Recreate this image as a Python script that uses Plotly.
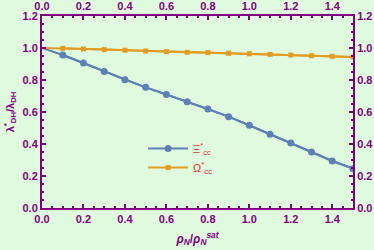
import plotly.graph_objects as go

x_vals = [0.0, 0.1, 0.2, 0.3, 0.4, 0.5, 0.6, 0.7, 0.8, 0.9, 1.0, 1.1, 1.2, 1.3, 1.4, 1.5]
xi_vals = [1.0, 0.956, 0.906, 0.853, 0.802, 0.754, 0.710, 0.664, 0.619, 0.571, 0.517, 0.461, 0.406, 0.350, 0.294, 0.246]
omega_vals = [1.0, 0.998, 0.994, 0.990, 0.986, 0.981, 0.977, 0.973, 0.971, 0.967, 0.964, 0.960, 0.956, 0.952, 0.948, 0.944]
marker_x = x_vals[1:]
xi_markers = xi_vals[1:]
omega_markers = omega_vals[1:]

xi_name = "Ξ<sup>*</sup><sub>cc</sub>"
omega_name = "Ω<sup>*</sup><sub>cc</sub>"

purple = "#800080"
blue = "#5E81B5"
orange = "#E19C24"
bg = "#E0FAE0"

fig = go.Figure()
fig.add_trace(go.Scatter(x=x_vals, y=xi_vals, mode="lines", line=dict(color=blue, width=2),
                         showlegend=False, hoverinfo="skip"))
fig.add_trace(go.Scatter(x=marker_x, y=xi_markers, mode="lines+markers", name=xi_name,
                         line=dict(color=blue, width=2), marker=dict(color=blue, size=7, symbol="circle")))
fig.add_trace(go.Scatter(x=x_vals, y=omega_vals, mode="lines", line=dict(color=orange, width=2),
                         showlegend=False, hoverinfo="skip"))
fig.add_trace(go.Scatter(x=marker_x, y=omega_markers, mode="lines+markers", name=omega_name,
                         line=dict(color=orange, width=2), marker=dict(color=orange, size=5, symbol="square")))
# dummy trace for top/right axes
fig.add_trace(go.Scatter(x=[0, 1.5], y=[0, 1.2], xaxis="x2", yaxis="y2", mode="markers",
                         marker=dict(opacity=0), showlegend=False, hoverinfo="skip"))

tickfont = dict(family="Liberation Sans", size=11, color=purple, weight="bold")
minor = dict(dtick=0.05, ticks="inside", ticklen=2, tickwidth=1.5, tickcolor=purple)
common = dict(showgrid=False, zeroline=False, showline=True, linecolor=purple, linewidth=2,
              ticks="inside", ticklen=4, tickwidth=2, tickcolor=purple, tickfont=tickfont,
              tickformat=".1f", minor=minor, automargin=False)

fig.update_layout(
    width=374, height=250,
    margin=dict(l=42, r=21, t=16, b=42),
    paper_bgcolor=bg, plot_bgcolor=bg,
    xaxis=dict(range=[0, 1.5], dtick=0.2, tick0=0,
               title=dict(text="<i>ρ<sub>N</sub></i>/<i>ρ<sub>N</sub><sup>sat</sup></i>",
                          font=dict(family="Liberation Sans", size=12, color=purple, weight="bold"),
                          standoff=10),
               **common),
    yaxis=dict(range=[0, 1.2], dtick=0.2, tick0=0,
               title=dict(text="λ<sup>*</sup><sub>DH</sub>/λ<sub>DH</sub>",
                          font=dict(family="Liberation Sans", size=11, color=purple, weight="bold"),
                          standoff=6),
               **common),
    xaxis2=dict(overlaying="x", side="top", matches="x", range=[0, 1.5], dtick=0.2, tick0=0,
                **common),
    yaxis2=dict(overlaying="y", side="right", matches="y", range=[0, 1.2], dtick=0.2, tick0=0,
                ticklabelstandoff=0, **common),
    legend=dict(x=0.325, y=0.26, xanchor="left", yanchor="middle", bgcolor="rgba(0,0,0,0)",
                font=dict(family="Liberation Sans", size=11, color="#E8302A"),
                itemwidth=40),
)

fig.write_html("out.html", config={"displayModeBar": False},
               post_script="document.body.style.margin='0';")
